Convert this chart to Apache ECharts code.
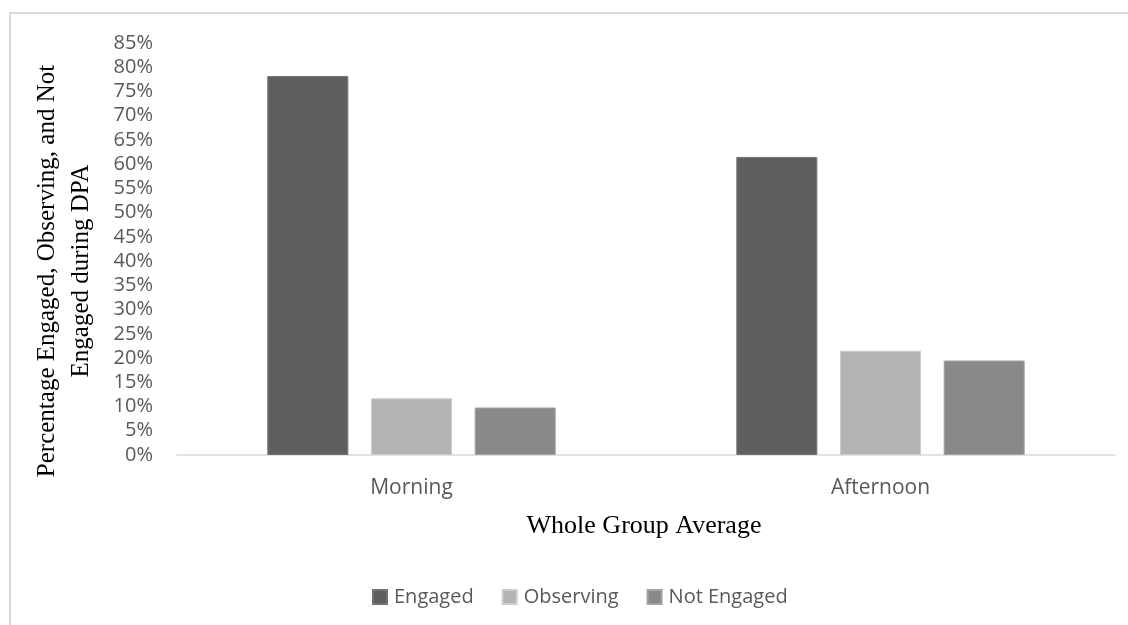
<!DOCTYPE html>
<html>
<head>
<meta charset="utf-8">
<script src="https://cdn.jsdelivr.net/npm/echarts@6/dist/echarts.min.js"></script>
<style>
  html, body { margin: 0; padding: 0; background: #ffffff; }
  #chart { width: 1128px; height: 625px; }
</style>
</head>
<body>
<div id="chart"></div>
<script>
// Time-of-day groups and the share of students in each engagement state (%)
const categories = ['Morning', 'Afternoon'];
const engaged = [78.2, 61.5];
const observing = [11.7, 21.5];
const notEngaged = [9.8, 19.5];
const seriesNames = ['Engaged', 'Observing', 'Not Engaged'];
const yAxisTitleLines = ['Percentage Engaged, Observing, and Not', 'Engaged during DPA'];
const xAxisTitle = 'Whole Group Average';

const labelFont = '"Open Sans", sans-serif';
const serifFont = '"Liberation Serif", "Times New Roman", serif';
const labelColor = '#595959';

const chart = echarts.init(document.getElementById('chart'), null, { renderer: 'canvas' });

function barSeries(name, data, color, edge) {
  return {
    name: name,
    type: 'bar',
    data: data,
    barWidth: 81,
    barGap: '28%',
    itemStyle: { color: color, borderColor: edge, borderWidth: 1 },
    emphasis: { disabled: true }
  };
}

chart.setOption({
  backgroundColor: '#ffffff',
  animation: false,
  grid: { left: 177, width: 938, top: 43, height: 412, containLabel: false },
  xAxis: {
    type: 'category',
    data: categories,
    axisLine: { lineStyle: { color: '#d9d9d9', width: 1.5 } },
    axisTick: { show: false },
    axisLabel: { color: labelColor, fontFamily: labelFont, fontSize: 21, margin: 23 },
    splitLine: { show: false }
  },
  yAxis: {
    type: 'value',
    min: 0,
    max: 85,
    interval: 5,
    axisLine: { show: false },
    axisTick: { show: false },
    splitLine: { show: false },
    axisLabel: {
      color: labelColor, fontFamily: labelFont, fontSize: 20, margin: 24,
      formatter: '{value}%'
    }
  },
  legend: {
    data: seriesNames,
    left: 372,
    top: 587,
    padding: 0,
    icon: 'rect',
    itemWidth: 14,
    itemHeight: 14,
    itemGap: 28,
    textStyle: { color: labelColor, fontFamily: labelFont, fontSize: 20, padding: [0, 0, 0, 2] }
  },
  graphic: [
    {
      type: 'rect',
      shape: { x: 10, y: 13, width: 1200, height: 700 },
      style: { fill: 'none', stroke: '#d9d9d9', lineWidth: 2 },
      silent: true
    },
    {
      type: 'text',
      x: 47, y: 271,
      rotation: Math.PI / 2,
      style: {
        text: yAxisTitleLines[0], fill: '#000000', font: '25px ' + serifFont,
        textAlign: 'center', textVerticalAlign: 'middle'
      }
    },
    {
      type: 'text',
      x: 81, y: 271,
      rotation: Math.PI / 2,
      style: {
        text: yAxisTitleLines[1], fill: '#000000', font: '25px ' + serifFont,
        textAlign: 'center', textVerticalAlign: 'middle'
      }
    },
    {
      type: 'text',
      x: 644, y: 526,
      style: {
        text: xAxisTitle, fill: '#000000', font: '26px ' + serifFont,
        textAlign: 'center', textVerticalAlign: 'middle'
      }
    }
  ],
  series: [
    barSeries(seriesNames[0], engaged, '#5f5f5f', '#727272'),
    barSeries(seriesNames[1], observing, '#b3b3b3', '#cdcdcd'),
    barSeries(seriesNames[2], notEngaged, '#898989', '#a3a3a3')
  ]
});
</script>
</body>
</html>
